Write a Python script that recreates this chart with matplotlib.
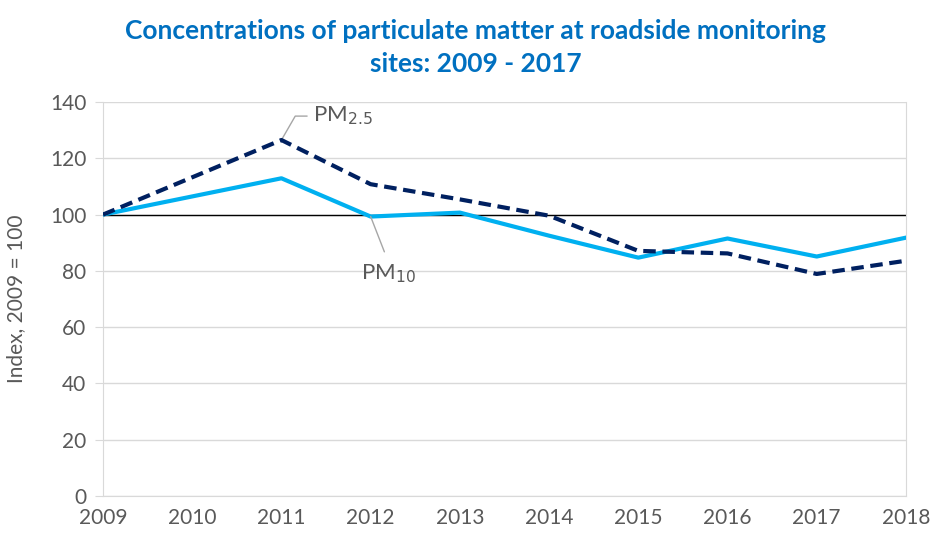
import matplotlib.pyplot as plt

# Données
years = [2009, 2010, 2011, 2012, 2013, 2014, 2015, 2016, 2017, 2018]
pm10 = [100, None, 112.9, 99.3, 100.7, 92.5, 84.7, 91.5, 85.1, 91.8]
pm25 = [100, None, 126.5, 110.8, 105.4, 99.6, 87.1, 86.2, 78.9, 83.6]
yticks = [0, 20, 40, 60, 80, 100, 120, 140]

# on saute 2010 (pas de valeur, ligne droite)
x10 = [y for y, v in zip(years, pm10) if v is not None]
v10 = [v for v in pm10 if v is not None]
x25 = [y for y, v in zip(years, pm25) if v is not None]
v25 = [v for v in pm25 if v is not None]

plt.rcParams['font.family'] = ['Lato', 'DejaVu Sans']
grey = "#595959"

fig = plt.figure(figsize=(9.33, 5.37), dpi=100)
ax = fig.add_axes([0.1104, 0.0764, 0.8606, 0.7336])

ax.set_ylim(0, 140)
ax.set_xlim(2009, 2018)
ax.set_yticks(yticks)
ax.set_xticks(years)
ax.grid(axis="y", color="#D9D9D9", linewidth=1)
ax.set_axisbelow(True)
ax.spines["top"].set_visible(False)
for s in ["left", "right", "bottom"]:
    ax.spines[s].set_color("#D9D9D9")
ax.tick_params(colors=grey, labelsize=15, length=0, pad=9)
ax.tick_params(axis="y", length=6, color="#D9D9D9", pad=6)

ax.axhline(100, color="black", linewidth=1, zorder=2)
ax.plot(x10, v10, color="#00B0F0", linewidth=3, zorder=3)
ax.plot(x25, v25, color="#002060", linewidth=3, linestyle=(0, (3, 1.6)), zorder=4)

ax.set_ylabel("Index, 2009 = 100", color=grey, fontsize=15, labelpad=17)

# étiquettes avec trait de rappel
ax.annotate("PM$_{2.5}$", xy=(2011, 126.5), xytext=(2011.35, 135),
            fontsize=16, color=grey, va="center",
            arrowprops=dict(arrowstyle="-", color="#A6A6A6", lw=1,
                            connectionstyle="angle,angleA=0,angleB=60,rad=0",
                            shrinkA=2, shrinkB=0))
ax.annotate("PM$_{10}$", xy=(2012, 99.3), xytext=(2012.2, 79),
            fontsize=16, color=grey, va="center", ha="center",
            arrowprops=dict(arrowstyle="-", color="#A6A6A6", lw=1,
                            relpos=(0.5, 1), shrinkA=6, shrinkB=0))

fig.suptitle("Concentrations of particulate matter at roadside monitoring\nsites: 2009 - 2017",
             x=0.51, y=0.965, color="#0070C0", fontsize=19, fontweight="bold",
             linespacing=1.45)

fig.savefig("out.png", dpi=100)
